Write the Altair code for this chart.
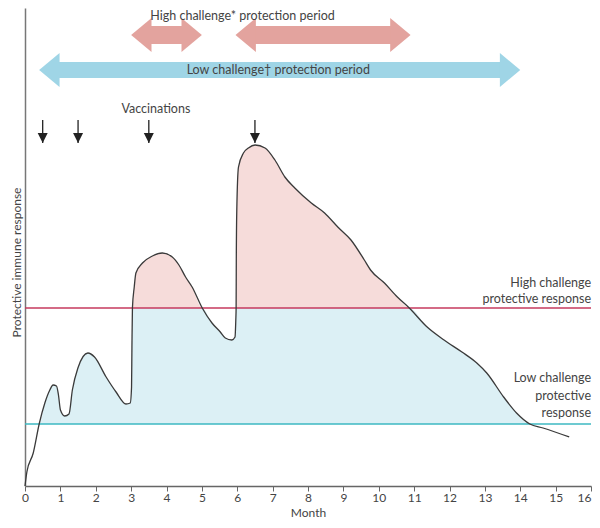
import altair as alt
import pandas as pd

# ---- data ----
month = [0, 0.053, 0.233, 0.401, 0.561, 0.702, 0.794, 0.890, 0.946, 1.002, 1.123, 1.244,
         1.339, 1.496, 1.777, 1.965, 2.293, 2.574, 2.855, 2.975, 3.012, 3.023, 3.037,
         3.088, 3.135, 3.321, 3.601, 3.882, 4.163, 4.351, 4.539, 4.724, 5.010, 5.286,
         5.521, 5.662, 5.847, 5.937, 5.959, 5.968, 5.973, 5.987, 6.035, 6.175, 6.316,
         6.504, 6.785, 7.065, 7.346, 7.627, 8.093, 8.469, 8.842, 9.215, 9.592, 9.768,
         10.161, 10.526, 10.863, 11.368, 11.846, 12.351, 12.772, 13.053, 13.530, 13.895,
         14.270, 14.644, 15.383]
response = [0, 14, 33, 62, 83, 96, 101, 100, 91, 76, 70, 72,
            96, 118, 133, 129, 109, 94, 82, 83, 99, 139, 178,
            199, 213, 223, 230, 233, 229, 221, 209, 199, 178, 163,
            154, 148, 146, 149, 166, 178, 226, 276, 319, 333, 338,
            341, 338, 326, 309, 298, 283, 273, 259, 246, 226, 216,
            203, 189, 178, 159, 146, 134, 123, 113, 89, 73,
            62, 58, 49]

HIGH = 178
LOW = 62

vacc_months = [0.5, 1.5, 3.5, 6.5]

period_label = ["high", "high", "low"]
period_start = [3.0, 5.95, 0.4]
period_end = [5.0, 10.9, 14.0]
period_level = [451, 451, 416]

center_text = ["High challenge* protection period", "Low challenge\u2020 protection period", "Vaccinations"]
center_x = [6.15, 7.16, 3.7]
center_y = [470, 416, 377]

right_text = ["High challenge", "protective response", "Low challenge", "protective", "response"]
right_y = [203, 187, 108, 90, 73]
RIGHT_X = 16

month_ticks = list(range(17))

# ---- tables ----
curve = pd.DataFrame({"month": month, "resp": response})
curve["blue_top"] = curve["resp"].clip(lower=LOW, upper=HIGH)
curve["pink_top"] = curve["resp"].clip(lower=HIGH)
curve["low"] = LOW
curve["high"] = HIGH

periods = pd.DataFrame({"kind": period_label, "start": period_start, "end": period_end,
                        "level": period_level})
vacc = pd.DataFrame({"month": vacc_months, "top": 366, "tip": 343})
ctext = pd.DataFrame({"text": center_text, "x": center_x, "y": center_y})
rtext = pd.DataFrame({"text": right_text, "x": RIGHT_X, "y": right_y})
thresh = pd.DataFrame({"y": [HIGH, LOW], "kind": ["high", "low"]})

FONT = "Lato"
xs = alt.Scale(domain=[0, 16], nice=False, zero=False)
ys = alt.Scale(domain=[0, 478], nice=False, zero=False)

XAXIS = alt.Axis(title="Month", values=month_ticks, format="d",
                 labelOverlap=False, labelBound=False,
                 labelAlign=alt.ExprRef(expr="datum.value == 16 ? 'right' : 'center'"),
                 tickSize=5, labelPadding=1, labelFontSize=12, labelColor="#444",
                 domainColor="#666", tickColor="#666", domainWidth=1.5,
                 titleFontSize=12, titleFontWeight="normal", titleColor="#444",
                 titlePadding=4, labelFlush=False, labelFont=FONT, titleFont=FONT)
YAXIS = alt.Axis(title="Protective immune response", labels=False, ticks=False,
                 domainColor="#777", domainWidth=1.5, titleFontSize=12,
                 titleFontWeight="normal", titleColor="#444", titleFont=FONT,
                 titleX=-9, titleY=254, titleAngle=-90, titleAlign="center",
                 titleBaseline="middle")


def xq(field):
    return alt.X(field, type="quantitative", scale=xs, axis=XAXIS)


def yq(field):
    return alt.Y(field, type="quantitative", scale=ys, axis=YAXIS)


blue_area = alt.Chart(curve).mark_area(color="#dcf0f5", interpolate="monotone").encode(
    x=xq("month"), y=yq("blue_top"), y2="low:Q")
pink_area = alt.Chart(curve).mark_area(color="#f6dcda", interpolate="monotone").encode(
    x=xq("month"), y=yq("pink_top"), y2="high:Q")

rules = alt.Chart(thresh).mark_rule(strokeWidth=1.3).encode(
    y=yq("y"),
    color=alt.Color("kind:N", scale=alt.Scale(domain=["high", "low"],
                                              range=["#c63a5e", "#3cb8c2"]), legend=None))

line = alt.Chart(curve).mark_line(color="#3a3a3a", strokeWidth=1.3,
                                  interpolate="monotone").encode(
    x=xq("month"), y=yq("resp"))

arrow_color = alt.Color("kind:N", scale=alt.Scale(domain=["high", "low"],
                                                  range=["#e3a39e", "#9fd5e6"]), legend=None)
shaft_p = alt.Chart(periods).transform_filter("datum.kind == 'high'").mark_rule(
    strokeWidth=18, xOffset=19, x2Offset=-19).encode(
    x=xq("start"), x2="end:Q", y=yq("level"), color=arrow_color)
shaft_b = alt.Chart(periods).transform_filter("datum.kind == 'low'").mark_rule(
    strokeWidth=16, xOffset=19, x2Offset=-19).encode(
    x=xq("start"), x2="end:Q", y=yq("level"), color=arrow_color)
head_l = alt.Chart(periods).mark_point(shape="M0,0L1.2,-1L1.2,1Z", size=1156, filled=True,
                                       opacity=1).encode(
    x=xq("start"), y=yq("level"), color=arrow_color)
head_r = alt.Chart(periods).mark_point(shape="M0,0L-1.2,-1L-1.2,1Z", size=1156, filled=True,
                                       opacity=1).encode(
    x=xq("end"), y=yq("level"), color=arrow_color)

vshaft = alt.Chart(vacc).mark_rule(color="#222", strokeWidth=1.3).encode(
    x=xq("month"), y=yq("top"), y2="tip:Q")
vhead = alt.Chart(vacc).mark_point(shape="M0,0L-1,-2L1,-2Z", size=100, filled=True,
                                   color="#222", opacity=1).encode(
    x=xq("month"), y=yq("tip"))

ctext_l = alt.Chart(ctext).mark_text(font=FONT, fontSize=12.5, color="#444",
                                     align="center", baseline="middle").encode(
    x=xq("x"), y=yq("y"), text="text:N")
rtext_l = alt.Chart(rtext).mark_text(font=FONT, fontSize=12.5, color="#444",
                                     align="right", baseline="middle").encode(
    x=xq("x"), y=yq("y"), text="text:N")

chart = alt.layer(blue_area, pink_area, rules, line, shaft_p, shaft_b, head_l, head_r,
                  vshaft, vhead, ctext_l, rtext_l).properties(
    width=566, height=478,
    autosize=alt.AutoSizeParams(type="none"),
    padding={"left": 17, "top": 0, "right": 1, "bottom": 34},
    background="white",
).resolve_scale(color="independent").configure_view(strokeWidth=0).configure_axis(
    grid=False, labelOverlap=False)

chart.save("out.html", embed_options={"renderer": "svg", "actions": False})
